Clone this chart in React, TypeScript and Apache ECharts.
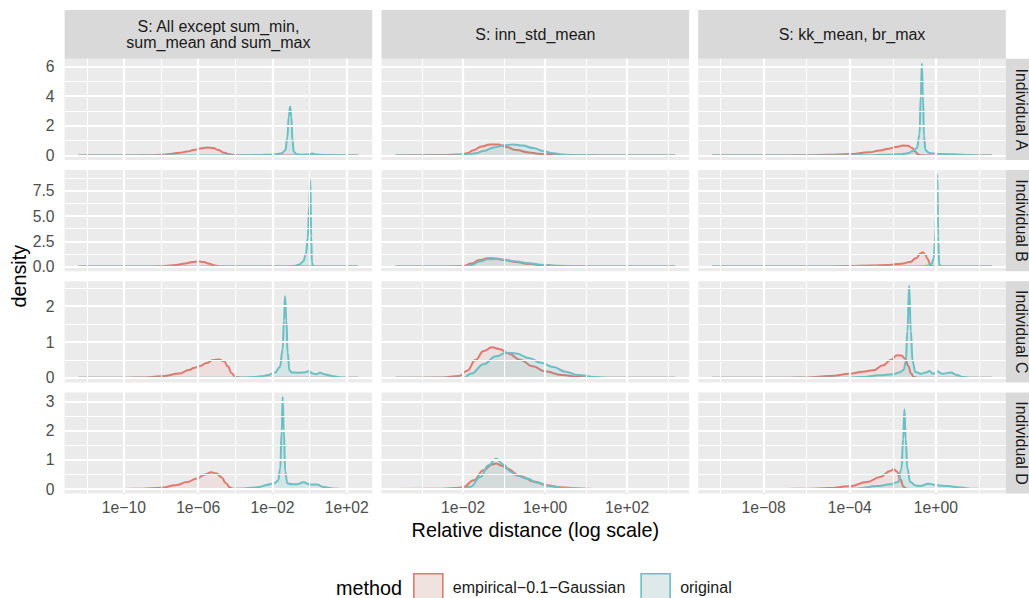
import React, { useEffect, useRef } from 'react';
import * as echarts from 'echarts';

const FONT = '"Liberation Sans", Arial, Helvetica, sans-serif';

const rowLabels = ['Individual A', 'Individual B', 'Individual C', 'Individual D'];
const colLabels = ['S: All except sum_min,\nsum_mean and sum_max', 'S: inn_std_mean', 'S: kk_mean, br_max'];
const methods = ['empirical\u22120.1\u2212Gaussian', 'original'];

// x values are log10(relative distance); y values are density
const empA1 = [[-12.44,0],[-9.5,0],[-8.5,0.01],[-8,0.04],[-7.5,0.1],[-7,0.18],[-6.6,0.26],[-6.25,0.36],[-5.9,0.46],[-5.5,0.53],[-5.2,0.5],[-4.9,0.36],[-4.6,0.18],[-4.3,0.07],[-4,0.01],[-3.6,0],[2.62,0]];
const origA1 = [[-12.44,0],[-4,0],[-3.2,0.01],[-2.6,0.03],[-2.2,0.05],[-1.8,0.08],[-1.5,0.14],[-1.3,0.35],[-1.2,1.2],[-1.12,2.6],[-1.05,3.3],[-0.98,2.6],[-0.92,1.0],[-0.85,0.25],[-0.7,0.08],[-0.4,0.05],[-0.1,0.06],[0.15,0.12],[0.35,0.06],[0.8,0.03],[1.4,0.01],[2,0],[2.62,0]];
const empA2 = [[-3.65,0],[-3,0.01],[-2.5,0.03],[-2.1,0.06],[-1.9,0.15],[-1.75,0.35],[-1.55,0.6],[-1.35,0.73],[-1.15,0.74],[-0.95,0.56],[-0.7,0.36],[-0.4,0.2],[-0.1,0.1],[0.3,0.04],[0.8,0.01],[1.3,0],[3.17,0]];
const origA2 = [[-3.65,0],[-2.2,0],[-1.9,0.05],[-1.7,0.15],[-1.5,0.3],[-1.25,0.54],[-1.0,0.68],[-0.78,0.74],[-0.55,0.66],[-0.3,0.5],[-0.05,0.3],[0.2,0.15],[0.45,0.05],[0.8,0.01],[1.3,0],[3.17,0]];
const empA3 = [[-10.39,0],[-7,0],[-6,0.01],[-5,0.04],[-4,0.09],[-3.1,0.21],[-2.6,0.33],[-2.2,0.45],[-1.85,0.57],[-1.5,0.66],[-1.3,0.65],[-1.1,0.5],[-0.95,0.25],[-0.82,0.07],[-0.7,0.01],[-0.5,0],[2.6,0]];
const origA3 = [[-10.39,0],[-4,0],[-3,0.01],[-2.5,0.04],[-2,0.06],[-1.6,0.08],[-1.3,0.15],[-1.05,0.3],[-0.88,0.5],[-0.76,1.4],[-0.7,4.0],[-0.65,6.2],[-0.6,4.0],[-0.55,1.3],[-0.48,0.35],[-0.3,0.17],[0.1,0.1],[0.6,0.08],[1.0,0.06],[1.5,0.02],[2,0],[2.6,0]];

const empB1 = [[-12.44,0],[-9.5,0],[-8.5,0.02],[-7.8,0.07],[-7.2,0.17],[-6.7,0.3],[-6.3,0.45],[-6.0,0.52],[-5.7,0.45],[-5.4,0.27],[-5.1,0.1],[-4.8,0.02],[-4.4,0],[2.62,0]];
const origB1 = [[-12.44,0],[-1.5,0],[-1.1,0.02],[-0.8,0.07],[-0.55,0.2],[-0.35,0.5],[-0.2,1.2],[-0.1,2.8],[-0.02,6],[0.04,8.55],[0.09,3],[0.13,0.4],[0.2,0.05],[0.4,0],[2.62,0]];
const empB2 = [[-3.65,0],[-2.5,0.01],[-2,0.05],[-1.8,0.3],[-1.6,0.65],[-1.4,0.83],[-1.2,0.8],[-1.0,0.65],[-0.7,0.45],[-0.4,0.28],[-0.1,0.15],[0.3,0.06],[0.8,0.02],[1.3,0],[3.17,0]];
const origB2 = [[-3.65,0],[-2,0],[-1.8,0.15],[-1.6,0.5],[-1.4,0.72],[-1.2,0.75],[-1.0,0.68],[-0.7,0.5],[-0.4,0.33],[-0.1,0.18],[0.3,0.08],[0.8,0.03],[1.3,0],[3.17,0]];
const empB3 = [[-10.39,0],[-7,0],[-5,0.02],[-4,0.06],[-3,0.12],[-2.2,0.17],[-1.6,0.28],[-1.2,0.45],[-0.9,0.85],[-0.72,1.3],[-0.6,1.42],[-0.5,1.2],[-0.38,0.75],[-0.27,0.25],[-0.18,0.04],[-0.05,0],[2.6,0]];
const origB3 = [[-10.39,0],[-1.2,0],[-0.6,0.03],[-0.35,0.1],[-0.2,0.25],[-0.1,0.8],[-0.03,3],[0.03,7],[0.07,9.1],[0.11,3],[0.15,0.3],[0.22,0.03],[0.5,0],[2.6,0]];

const empC1 = [[-12.44,0],[-10,0],[-9,0.01],[-8,0.04],[-7,0.12],[-6.5,0.22],[-6.2,0.28],[-5.9,0.33],[-5.55,0.41],[-5.2,0.5],[-4.9,0.51],[-4.6,0.46],[-4.4,0.32],[-4.2,0.13],[-4.0,0.03],[-3.7,0],[2.62,0]];
const origC1 = [[-12.44,0],[-4.2,0],[-3.5,0.01],[-3,0.02],[-2.6,0.04],[-2.2,0.08],[-1.85,0.15],[-1.6,0.3],[-1.45,0.8],[-1.38,1.6],[-1.32,2.28],[-1.25,1.6],[-1.18,0.7],[-1.08,0.2],[-0.95,0.15],[-0.6,0.14],[-0.3,0.15],[-0.05,0.18],[0.2,0.12],[0.35,0.1],[0.57,0.14],[0.8,0.1],[1.05,0.07],[1.3,0.04],[1.65,0.01],[2.1,0],[2.62,0]];
const empC2 = [[-3.65,0],[-2.5,0.01],[-2.1,0.05],[-1.9,0.2],[-1.7,0.5],[-1.5,0.75],[-1.3,0.85],[-1.1,0.8],[-0.9,0.68],[-0.6,0.5],[-0.3,0.32],[0,0.18],[0.4,0.08],[0.8,0.03],[1.3,0],[3.17,0]];
const origC2 = [[-3.65,0],[-2,0],[-1.8,0.12],[-1.5,0.38],[-1.2,0.6],[-0.95,0.7],[-0.7,0.68],[-0.4,0.55],[-0.1,0.42],[0.2,0.3],[0.5,0.17],[0.8,0.08],[1.2,0.02],[1.6,0],[3.17,0]];
const empC3 = [[-10.39,0],[-7,0],[-6,0.01],[-4.9,0.05],[-4,0.11],[-3.4,0.17],[-2.9,0.21],[-2.45,0.35],[-2.1,0.5],[-1.8,0.63],[-1.6,0.62],[-1.42,0.53],[-1.28,0.33],[-1.15,0.12],[-1.02,0.02],[-0.85,0],[2.6,0]];
const origC3 = [[-10.39,0],[-4.5,0],[-3.5,0.02],[-2.6,0.07],[-2.0,0.1],[-1.7,0.15],[-1.5,0.22],[-1.4,0.45],[-1.32,1.3],[-1.24,2.57],[-1.16,1.3],[-1.08,0.45],[-0.95,0.16],[-0.7,0.11],[-0.45,0.15],[-0.3,0.19],[-0.12,0.11],[0.05,0.18],[0.3,0.11],[0.7,0.15],[0.97,0.08],[1.28,0.02],[1.6,0],[2.6,0]];

const empD1 = [[-12.44,0],[-10,0],[-9,0.01],[-8,0.04],[-7.2,0.13],[-6.6,0.24],[-6.07,0.36],[-5.63,0.5],[-5.3,0.57],[-5.0,0.53],[-4.75,0.4],[-4.5,0.2],[-4.3,0.06],[-4.1,0.01],[-3.8,0],[2.62,0]];
const origD1 = [[-12.44,0],[-4.3,0],[-3.7,0.02],[-3.2,0.04],[-2.7,0.07],[-2.3,0.14],[-1.9,0.2],[-1.7,0.28],[-1.58,0.7],[-1.5,2.0],[-1.45,3.15],[-1.39,2.0],[-1.31,0.6],[-1.2,0.2],[-0.95,0.16],[-0.7,0.16],[-0.33,0.23],[0.03,0.15],[0.39,0.15],[0.74,0.07],[1.28,0.02],[1.8,0],[2.62,0]];
const empD2 = [[-3.65,0],[-2.6,0.01],[-2.2,0.03],[-2.0,0.06],[-1.74,0.3],[-1.5,0.64],[-1.3,0.84],[-1.2,0.87],[-1.05,0.8],[-0.93,0.7],[-0.6,0.44],[-0.28,0.26],[0.04,0.13],[0.37,0.06],[0.78,0.02],[1.3,0],[3.17,0]];
const origD2 = [[-3.65,0],[-2.3,0],[-2.0,0.02],[-1.82,0.08],[-1.58,0.41],[-1.38,0.81],[-1.2,1.04],[-1.01,0.83],[-0.85,0.6],[-0.69,0.46],[-0.44,0.36],[-0.2,0.22],[0.13,0.09],[0.53,0.03],[1.0,0],[3.17,0]];
const empD3 = [[-10.39,0],[-7,0],[-6,0.01],[-5,0.03],[-4,0.09],[-3.2,0.24],[-2.58,0.41],[-2.12,0.62],[-1.95,0.68],[-1.81,0.6],[-1.65,0.33],[-1.5,0.08],[-1.38,0.01],[-1.2,0],[2.6,0]];
const origD3 = [[-10.39,0],[-4.5,0],[-3.6,0.02],[-2.74,0.1],[-2.12,0.16],[-1.74,0.24],[-1.6,0.7],[-1.52,1.7],[-1.46,2.73],[-1.4,1.7],[-1.32,0.7],[-1.19,0.24],[-0.95,0.12],[-0.73,0.1],[-0.34,0.18],[0.05,0.13],[0.51,0.1],[1.13,0.05],[1.74,0.01],[2.1,0],[2.6,0]];

// tick / grid values
const xMajor = [[-10, -6, -2, 2], [-2, 0, 2], [-8, -4, 0]];
const xMinor = [[-12, -8, -4, 0], [-3, -1, 1, 3], [-10, -6, -2, 2]];
const yMajor = [[0, 2, 4, 6], [0, 2.5, 5, 7.5], [0, 1, 2], [0, 1, 2, 3]];
const yMinor = [[1, 3, 5], [1.25, 3.75, 6.25, 8.75], [0.5, 1.5, 2.5], [0.5, 1.5, 2.5]];
const yDecimals = [0, 1, 0, 0];

const panels: number[][][][][] = [
  [[empA1, origA1], [empA2, origA2], [empA3, origA3]],
  [[empB1, origB1], [empB2, origB2], [empB3, origB3]],
  [[empC1, origC1], [empC2, origC2], [empC3, origC3]],
  [[empD1, origD1], [empD2, origD2], [empD3, origD3]],
];

const lineColors = ['#E0786F', '#6BBFC3'];
const fillColors = ['rgba(248,118,109,0.1)', 'rgba(0,191,196,0.1)'];
const keyFills = ['#EFE2DF', '#DEEAEA'];

// layout
const colLeft = [64.6, 381.5, 698.2];
const colW = 307.6;
const rowTop = [58.8, 170, 281.2, 392.4];
const rowH = 101.2;
const stripTop = 10;

const fmtExp = (v: number) => {
  const e = Math.round(v);
  const s = e < 0 ? '\u2212' : '+';
  const a = Math.abs(e);
  return '1e' + s + (a < 10 ? '0' + a : String(a));
};

function buildOption() {
  const grids: any[] = [];
  const xAxes: any[] = [];
  const yAxes: any[] = [];
  const series: any[] = [];
  const graphic: any[] = [];

  const xExt = [0, 1, 2].map((c) => {
    let lo = Infinity, hi = -Infinity;
    for (let r = 0; r < 4; r++) for (const s of panels[r][c]) for (const p of s) { lo = Math.min(lo, p[0]); hi = Math.max(hi, p[0]); }
    const pad = 0.05 * (hi - lo);
    return [lo - pad, hi + pad];
  });
  const yExt = [0, 1, 2, 3].map((r) => {
    let hi = 0;
    for (let c = 0; c < 3; c++) for (const s of panels[r][c]) for (const p of s) hi = Math.max(hi, p[1]);
    return [-0.05 * hi, 1.05 * hi];
  });

  for (let r = 0; r < 4; r++) {
    for (let c = 0; c < 3; c++) {
      const i = r * 3 + c;
      grids.push({ left: colLeft[c], top: rowTop[r], width: colW, height: rowH, show: true, backgroundColor: '#EBEBEB', borderWidth: 0 });
      const showX = r === 3;
      const showY = c === 0;
      xAxes.push({
        type: 'value', gridIndex: i, min: xExt[c][0], max: xExt[c][1],
        axisLine: { show: false }, splitLine: { show: false },
        axisTick: { show: showX, customValues: xMajor[c], length: 4.5, lineStyle: { color: '#333333', width: 1.5 } },
        axisLabel: { show: showX, customValues: xMajor[c], formatter: (v: number) => fmtExp(v), color: '#4D4D4D', fontSize: 15.7, fontFamily: FONT, margin: 6 },
      });
      yAxes.push({
        type: 'value', gridIndex: i, min: yExt[r][0], max: yExt[r][1],
        axisLine: { show: false }, splitLine: { show: false },
        axisTick: { show: showY, customValues: yMajor[r], length: 4.5, lineStyle: { color: '#333333', width: 1.5 } },
        axisLabel: { show: showY, customValues: yMajor[r], formatter: (v: number) => v.toFixed(yDecimals[r]), color: '#4D4D4D', fontSize: 15.7, fontFamily: FONT, margin: 10 },
      });
      const ml: any[] = [];
      xMinor[c].forEach((v) => ml.push({ xAxis: v, lineStyle: { width: 1.1 } }));
      yMinor[r].forEach((v) => ml.push({ yAxis: v, lineStyle: { width: 1.1 } }));
      xMajor[c].forEach((v) => ml.push({ xAxis: v, lineStyle: { width: 2.2 } }));
      yMajor[r].forEach((v) => ml.push({ yAxis: v, lineStyle: { width: 2.2 } }));
      series.push({
        type: 'line', name: 'grid' + i, xAxisIndex: i, yAxisIndex: i,
        data: [[xExt[c][0], 0]], showSymbol: false, symbol: 'none', lineStyle: { opacity: 0 }, silent: true, z: 1,
        markLine: { silent: true, symbol: ['none', 'none'], label: { show: false }, emphasis: { disabled: true }, animation: false,
          lineStyle: { color: '#FFFFFF', type: 'solid' }, data: ml },
      });
      panels[r][c].forEach((d, m) => {
        series.push({
          type: 'line', name: methods[m], xAxisIndex: i, yAxisIndex: i, data: d,
          showSymbol: false, symbol: 'none', smooth: 0.45, smoothMonotone: 'x',
          lineStyle: { color: lineColors[m], width: 2 }, itemStyle: { color: lineColors[m] },
          areaStyle: { color: fillColors[m], opacity: 1 }, z: 2 + m, silent: true, emphasis: { disabled: true },
        });
      });
    }
  }

  // top strips
  for (let c = 0; c < 3; c++) {
    graphic.push({ type: 'rect', shape: { x: colLeft[c], y: stripTop, width: colW, height: rowTop[0] - stripTop }, style: { fill: '#D9D9D9' }, silent: true });
    graphic.push({ type: 'text', x: colLeft[c] + colW / 2, y: (stripTop + rowTop[0]) / 2, silent: true,
      style: { text: colLabels[c], fill: '#1A1A1A', fontSize: 16, fontFamily: FONT, align: 'center', verticalAlign: 'middle', lineHeight: 16.5 } });
  }
  // right strips
  const stripX = colLeft[2] + colW;
  for (let r = 0; r < 4; r++) {
    graphic.push({ type: 'rect', shape: { x: stripX, y: rowTop[r], width: 40, height: rowH }, style: { fill: '#D9D9D9' }, silent: true });
    graphic.push({ type: 'text', x: stripX + 15.5, y: rowTop[r] + rowH / 2, rotation: -Math.PI / 2, silent: true,
      style: { text: rowLabels[r], fill: '#1A1A1A', fontSize: 16, fontFamily: FONT, align: 'center', verticalAlign: 'middle' } });
  }
  // axis titles
  graphic.push({ type: 'text', x: colLeft[1] + colW / 2, y: 530, silent: true,
    style: { text: 'Relative distance (log scale)', fill: '#000000', fontSize: 19.8, fontFamily: FONT, align: 'center', verticalAlign: 'middle' } });
  graphic.push({ type: 'text', x: 19, y: (rowTop[0] + rowTop[3] + rowH) / 2, rotation: Math.PI / 2, silent: true,
    style: { text: 'density', fill: '#000000', fontSize: 19.8, fontFamily: FONT, align: 'center', verticalAlign: 'middle' } });
  graphic.push({ type: 'text', x: 336, y: 588, silent: true,
    style: { text: 'method', fill: '#000000', fontSize: 19.8, fontFamily: FONT, align: 'left', verticalAlign: 'middle' } });

  return {
    animation: false,
    backgroundColor: '#FFFFFF',
    grid: grids,
    xAxis: xAxes,
    yAxis: yAxes,
    series,
    graphic,
    legend: {
      left: 413, top: 573, padding: 0, itemWidth: 29, itemHeight: 28, itemGap: 15, icon: 'rect', selectedMode: false,
      textStyle: { fontSize: 16, color: '#1A1A1A', fontFamily: FONT, padding: [0, 0, 0, 5] },
      data: methods.map((name, m) => ({ name, icon: 'rect', itemStyle: { color: keyFills[m], borderColor: lineColors[m], borderWidth: 1.6 } })),
    },
  };
}

export default function App() {
  const ref = useRef<HTMLDivElement>(null);
  useEffect(() => {
    if (!ref.current) return;
    const chart = echarts.init(ref.current, undefined, { renderer: 'svg' });
    chart.setOption(buildOption() as any);
    return () => chart.dispose();
  }, []);
  return <div ref={ref} style={{ position: 'fixed', left: 0, top: 0, width: 1029, height: 598, background: '#fff' }} />;
}
